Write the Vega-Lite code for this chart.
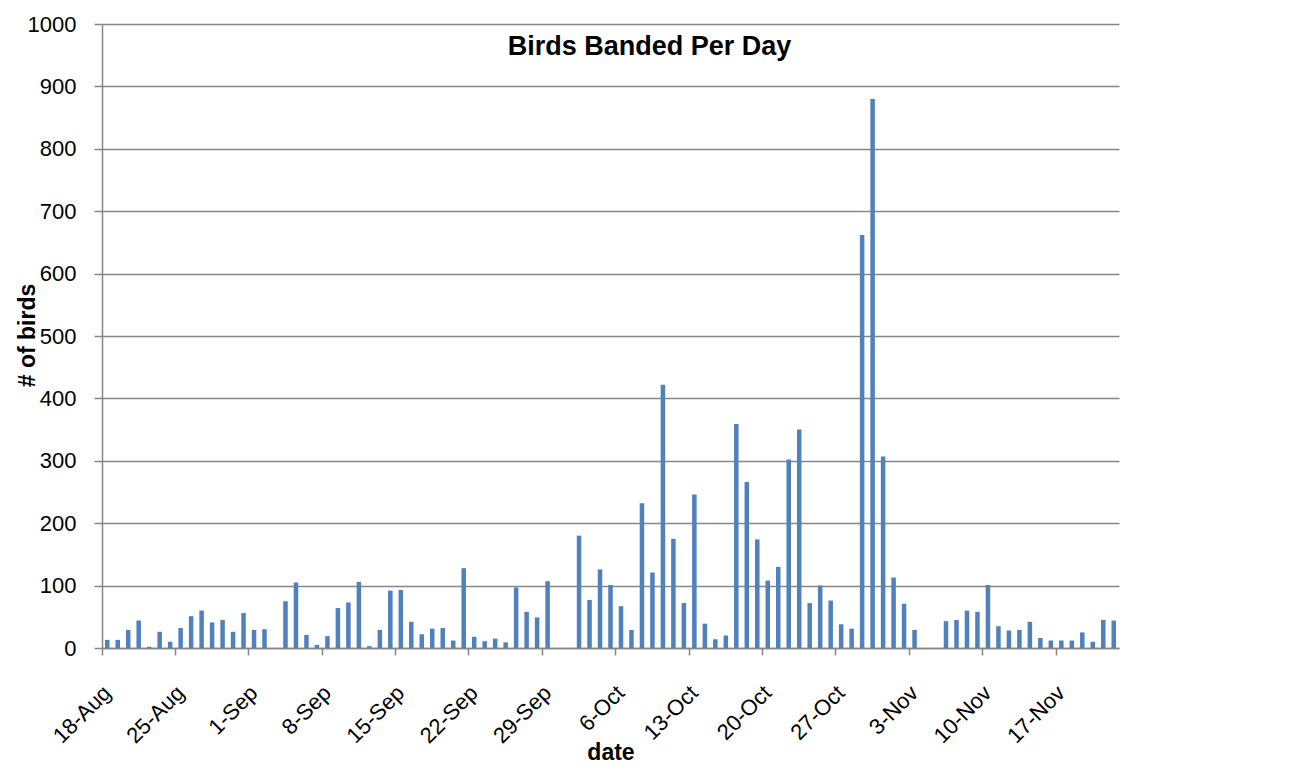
{
  "$schema": "https://vega.github.io/schema/vega-lite/v6.json",
  "width": 1017,
  "height": 624,
  "autosize": {"type": "none"},
  "padding": {"left": 102, "top": 24, "right": 173, "bottom": 122},
  "background": "white",
  "data": {
    "values": [
      {"date": "18-Aug", "birds": 13}, {"date": "19-Aug", "birds": 13}, {"date": "20-Aug", "birds": 29},
      {"date": "21-Aug", "birds": 44}, {"date": "22-Aug", "birds": 2}, {"date": "23-Aug", "birds": 26},
      {"date": "24-Aug", "birds": 10}, {"date": "25-Aug", "birds": 32}, {"date": "26-Aug", "birds": 51},
      {"date": "27-Aug", "birds": 60}, {"date": "28-Aug", "birds": 41}, {"date": "29-Aug", "birds": 45},
      {"date": "30-Aug", "birds": 26}, {"date": "31-Aug", "birds": 56}, {"date": "1-Sep", "birds": 29},
      {"date": "2-Sep", "birds": 30}, {"date": "3-Sep", "birds": 0}, {"date": "4-Sep", "birds": 75},
      {"date": "5-Sep", "birds": 105}, {"date": "6-Sep", "birds": 21}, {"date": "7-Sep", "birds": 5},
      {"date": "8-Sep", "birds": 19}, {"date": "9-Sep", "birds": 64}, {"date": "10-Sep", "birds": 73},
      {"date": "11-Sep", "birds": 106}, {"date": "12-Sep", "birds": 3}, {"date": "13-Sep", "birds": 29},
      {"date": "14-Sep", "birds": 92}, {"date": "15-Sep", "birds": 93}, {"date": "16-Sep", "birds": 42},
      {"date": "17-Sep", "birds": 22}, {"date": "18-Sep", "birds": 31}, {"date": "19-Sep", "birds": 32},
      {"date": "20-Sep", "birds": 12}, {"date": "21-Sep", "birds": 128}, {"date": "22-Sep", "birds": 18},
      {"date": "23-Sep", "birds": 11}, {"date": "24-Sep", "birds": 15}, {"date": "25-Sep", "birds": 9},
      {"date": "26-Sep", "birds": 97}, {"date": "27-Sep", "birds": 58}, {"date": "28-Sep", "birds": 49},
      {"date": "29-Sep", "birds": 107}, {"date": "30-Sep", "birds": 0}, {"date": "1-Oct", "birds": 0},
      {"date": "2-Oct", "birds": 180}, {"date": "3-Oct", "birds": 77}, {"date": "4-Oct", "birds": 126},
      {"date": "5-Oct", "birds": 101}, {"date": "6-Oct", "birds": 67}, {"date": "7-Oct", "birds": 29},
      {"date": "8-Oct", "birds": 232}, {"date": "9-Oct", "birds": 121}, {"date": "10-Oct", "birds": 422},
      {"date": "11-Oct", "birds": 175}, {"date": "12-Oct", "birds": 72}, {"date": "13-Oct", "birds": 246},
      {"date": "14-Oct", "birds": 39}, {"date": "15-Oct", "birds": 14}, {"date": "16-Oct", "birds": 20},
      {"date": "17-Oct", "birds": 359}, {"date": "18-Oct", "birds": 266}, {"date": "19-Oct", "birds": 174},
      {"date": "20-Oct", "birds": 108}, {"date": "21-Oct", "birds": 130}, {"date": "22-Oct", "birds": 302},
      {"date": "23-Oct", "birds": 350}, {"date": "24-Oct", "birds": 72}, {"date": "25-Oct", "birds": 100},
      {"date": "26-Oct", "birds": 76}, {"date": "27-Oct", "birds": 38}, {"date": "28-Oct", "birds": 31},
      {"date": "29-Oct", "birds": 662}, {"date": "30-Oct", "birds": 880}, {"date": "31-Oct", "birds": 307},
      {"date": "1-Nov", "birds": 113}, {"date": "2-Nov", "birds": 71}, {"date": "3-Nov", "birds": 29},
      {"date": "4-Nov", "birds": 0}, {"date": "5-Nov", "birds": 0}, {"date": "6-Nov", "birds": 43},
      {"date": "7-Nov", "birds": 45}, {"date": "8-Nov", "birds": 60}, {"date": "9-Nov", "birds": 58},
      {"date": "10-Nov", "birds": 101}, {"date": "11-Nov", "birds": 35}, {"date": "12-Nov", "birds": 28},
      {"date": "13-Nov", "birds": 29}, {"date": "14-Nov", "birds": 42}, {"date": "15-Nov", "birds": 16},
      {"date": "16-Nov", "birds": 12}, {"date": "17-Nov", "birds": 12}, {"date": "18-Nov", "birds": 12},
      {"date": "19-Nov", "birds": 25}, {"date": "20-Nov", "birds": 10}, {"date": "21-Nov", "birds": 45},
      {"date": "22-Nov", "birds": 44}
    ]
  },
  "encoding": {
    "x": {
      "field": "date",
      "type": "ordinal",
      "sort": null,
      "scale": {"paddingInner": 0, "paddingOuter": 0},
      "axis": {
        "title": "date",
        "values": ["18-Aug", "25-Aug", "1-Sep", "8-Sep", "15-Sep", "22-Sep", "29-Sep", "6-Oct", "13-Oct", "20-Oct", "27-Oct", "3-Nov", "10-Nov", "17-Nov"],
        "bandPosition": 0,
        "grid": false,
        "labelAngle": -45,
        "labelAlign": "right",
        "labelBaseline": "middle",
        "labelPadding": 34,
        "labelOverlap": false,
        "labelFont": "Liberation Sans",
        "labelFontSize": 22,
        "labelColor": "black",
        "tickSize": 7,
        "tickColor": "#868686",
        "tickWidth": 1.5,
        "domainColor": "#868686",
        "domainWidth": 1.5,
        "titleFont": "Liberation Sans",
        "titleFontSize": 23,
        "titleFontWeight": "bold",
        "titleColor": "black",
        "titleBaseline": "alphabetic",
        "titleY": 111
      }
    },
    "y": {
      "field": "birds",
      "type": "quantitative",
      "scale": {"domain": [0, 1000], "nice": false},
      "axis": {
        "title": "# of birds",
        "values": [0, 100, 200, 300, 400, 500, 600, 700, 800, 900, 1000],
        "format": "d",
        "grid": true,
        "gridColor": "#868686",
        "gridWidth": 1.5,
        "domainColor": "#868686",
        "domainWidth": 1.5,
        "tickColor": "#868686",
        "tickWidth": 1.5,
        "tickSize": 8,
        "labelPadding": 18,
        "labelFont": "Liberation Sans",
        "labelFontSize": 22,
        "labelColor": "black",
        "titleFont": "Liberation Sans",
        "titleFontSize": 23,
        "titleFontWeight": "bold",
        "titleColor": "black",
        "titleAlign": "center",
        "titleBaseline": "alphabetic",
        "titleX": -68,
        "titleY": 311
      }
    }
  },
  "layer": [
    {
      "mark": {"type": "bar", "color": "#4F81BD", "width": {"band": 0.43}}
    },
    {
      "transform": [{"filter": "datum.date === '9-Oct'"}],
      "mark": {
        "type": "text",
        "text": "Birds Banded Per Day",
        "align": "center",
        "baseline": "alphabetic",
        "dx": -3,
        "font": "Liberation Sans",
        "fontSize": 27,
        "fontWeight": "bold",
        "color": "black"
      },
      "encoding": {
        "x": {"datum": "9-Oct", "type": "ordinal"},
        "y": {"datum": 950, "type": "quantitative"}
      }
    }
  ],
  "config": {"view": {"stroke": null}}
}
